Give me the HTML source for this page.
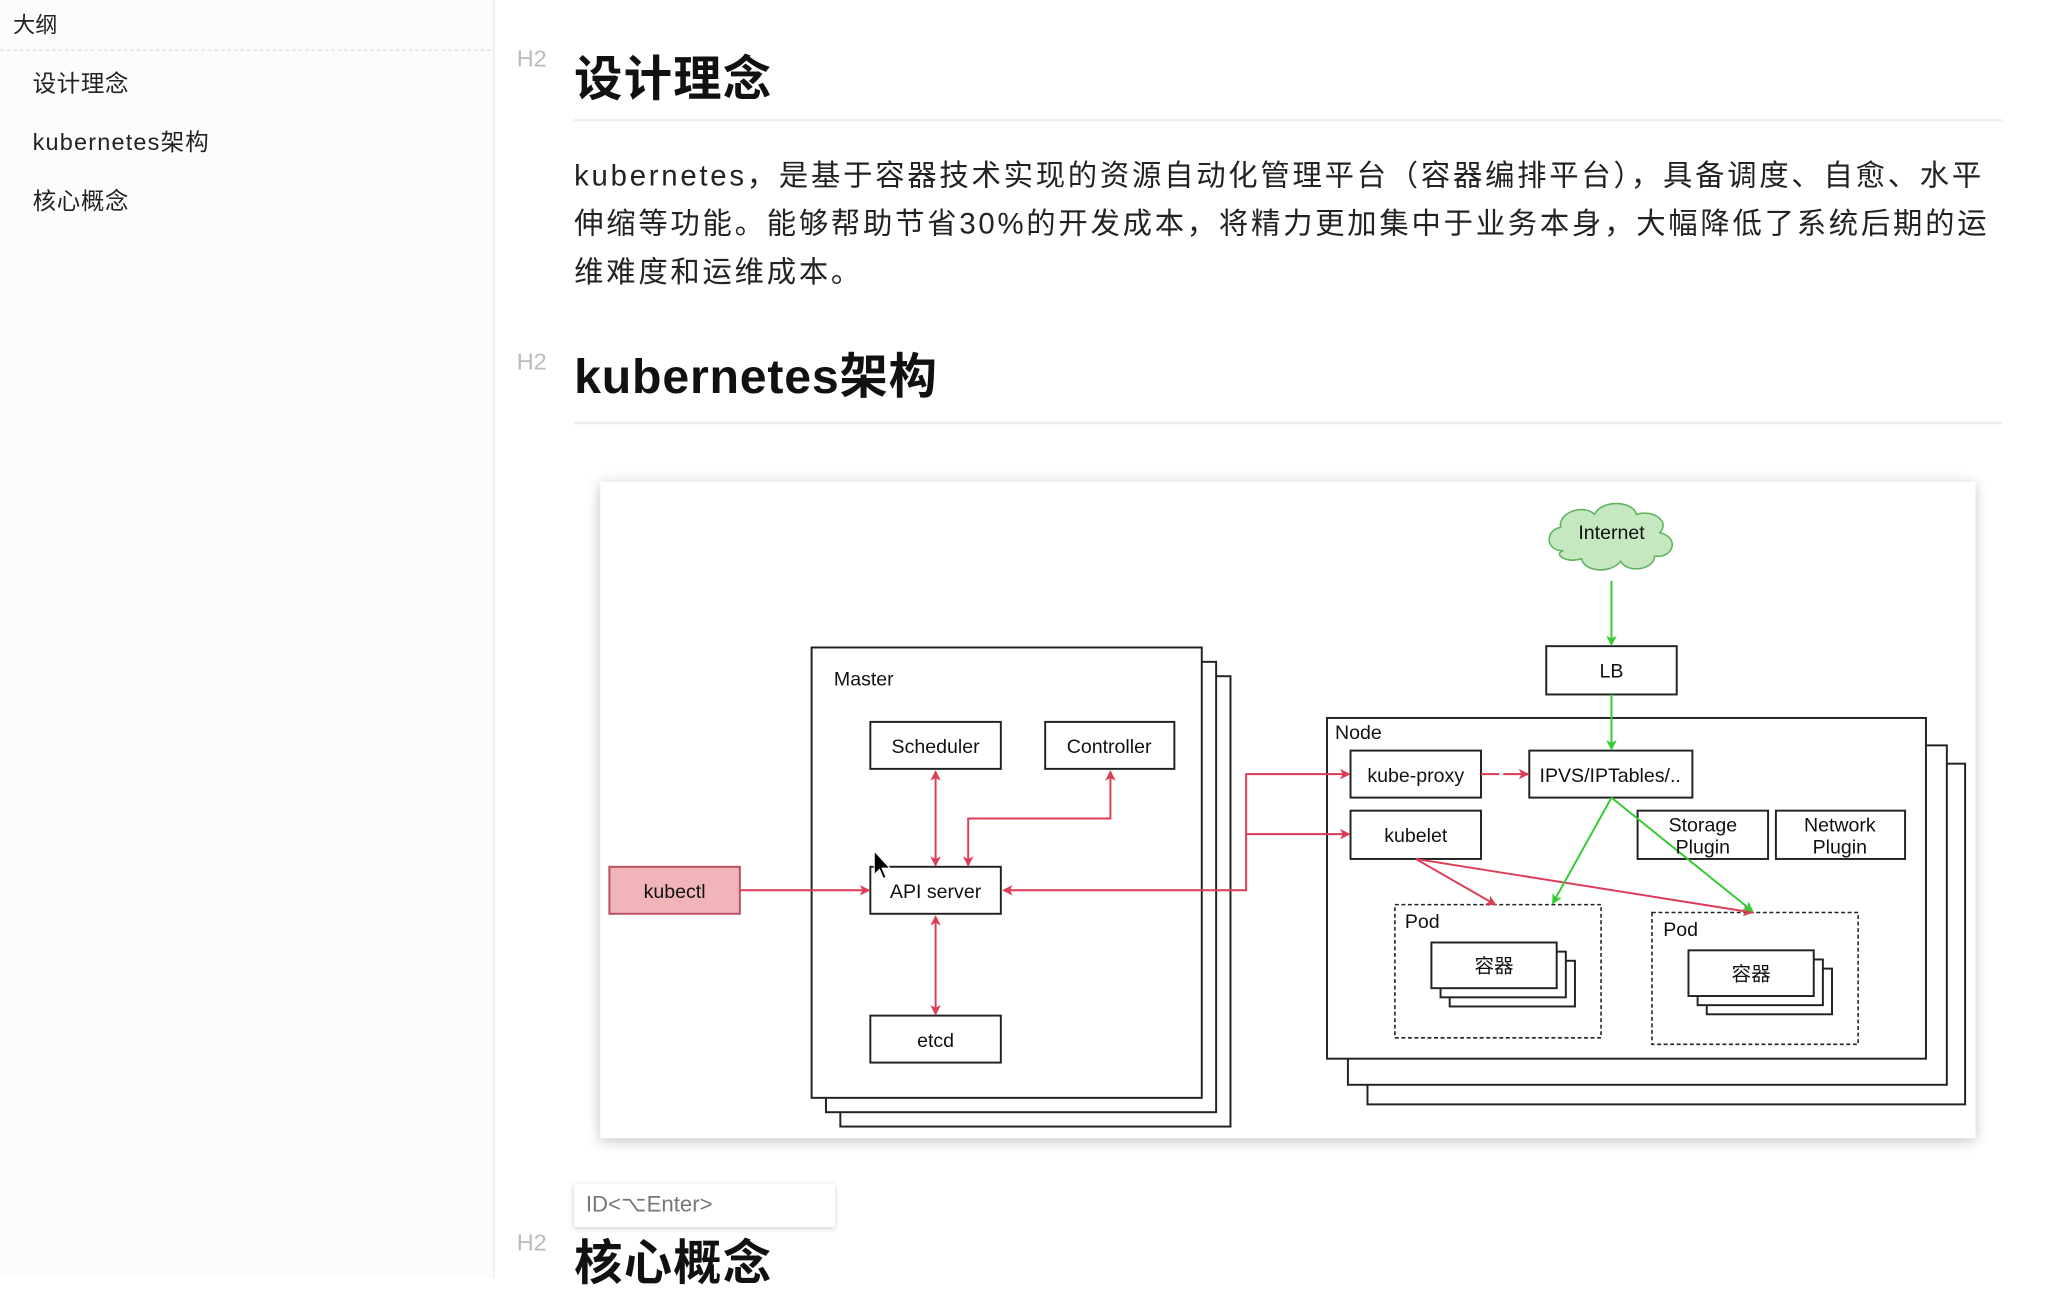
<!DOCTYPE html>
<html><head><meta charset="utf-8"><style>
html,body{margin:0;padding:0;width:2046px;height:1278px;overflow:hidden;background:#fff}
#w{position:absolute;left:0;top:0;width:1568px;height:979px;transform:scale(1.30485,1.3054);transform-origin:0 0;font-family:"Liberation Sans","Noto Sans CJK SC",sans-serif;color:#222}
.a{position:absolute;white-space:nowrap}
</style></head><body><div id="w">
<div class="a" style="left:0;top:0;width:378px;height:979px;background:#fcfcfc;border-right:1px solid #e8e8e8"></div>
<div class="a" style="left:10px;top:5px;font-size:17px">大纲</div>
<div class="a" style="left:0;top:38px;width:376px;border-top:1px dashed #ddd"></div>
<div class="a" style="left:25px;top:50px;font-size:18px;letter-spacing:0.5px">设计理念</div>
<div class="a" style="left:25px;top:95px;font-size:18px;letter-spacing:0.9px">kubernetes架构</div>
<div class="a" style="left:25px;top:140px;font-size:18px;letter-spacing:0.5px">核心概念</div>

<div class="a" style="left:396px;top:35px;font-size:18px;color:#bbb">H2</div>
<div class="a" style="left:440px;top:30px;font-size:37px;font-weight:bold;color:#111;letter-spacing:1px">设计理念</div>
<div class="a" style="left:440px;top:91px;width:1094px;border-top:2px solid #eee"></div>
<div class="a" style="left:440px;top:116px;font-size:22.5px;line-height:37px;color:#222;letter-spacing:2.1px">kubernetes，是基于容器技术实现的资源自动化管理平台（容器编排平台），具备调度、自愈、水平<br>伸缩等功能。能够帮助节省30%的开发成本，将精力更加集中于业务本身，大幅降低了系统后期的运<br>维难度和运维成本。</div>
<div class="a" style="left:396px;top:267px;font-size:18px;color:#bbb">H2</div>
<div class="a" style="left:440px;top:258px;font-size:37px;font-weight:bold;color:#111;letter-spacing:0.6px">kubernetes架构</div>
<div class="a" style="left:440px;top:323px;width:1094px;border-top:2px solid #eee"></div>

<div class="a" style="left:460px;top:369px;width:1054px;height:503px;background:#fff;box-shadow:0 2px 10px rgba(0,0,0,0.25)"></div>
<svg class="a" style="left:0;top:0" width="1568" height="979" viewBox="0 0 1568 979" font-family="Liberation Sans, Noto Sans CJK SC, sans-serif" font-size="15" text-anchor="middle">
<defs>
<marker id="r" markerWidth="8" markerHeight="8" refX="7" refY="4" orient="auto" markerUnits="userSpaceOnUse"><path d="M0,0 L8,4 L0,8 L2,4z" fill="#dc3c55"/></marker>
<marker id="rs" markerWidth="8" markerHeight="8" refX="1" refY="4" orient="auto" markerUnits="userSpaceOnUse"><path d="M8,0 L0,4 L8,8 L6,4z" fill="#dc3c55"/></marker>
<marker id="g" markerWidth="8" markerHeight="8" refX="7" refY="4" orient="auto" markerUnits="userSpaceOnUse"><path d="M0,0 L8,4 L0,8 L2,4z" fill="#33cc33"/></marker>
</defs>
<g fill="#fff" stroke="#222" stroke-width="1.5">
<rect x="644" y="518" width="299" height="345"/><rect x="633" y="507" width="299" height="345"/><rect x="622" y="496" width="299" height="345"/>
<rect x="1048" y="585" width="458" height="261"/><rect x="1033" y="571" width="459" height="260"/><rect x="1017" y="550" width="459" height="261"/>
<rect x="667" y="553" width="100" height="36"/><rect x="801" y="553" width="99" height="36"/>
<rect x="667" y="664" width="100" height="36"/><rect x="667" y="778" width="100" height="36"/>
<rect x="1185" y="495" width="100" height="37"/>
<rect x="1035" y="575" width="100" height="36"/><rect x="1172" y="575" width="125" height="36"/>
<rect x="1035" y="621" width="100" height="37"/><rect x="1255" y="621" width="100" height="37"/><rect x="1361" y="621" width="99" height="37"/>
<rect x="1069" y="693" width="158" height="102" stroke-dasharray="3,2" stroke-width="1.2"/>
<rect x="1266" y="699" width="158" height="101" stroke-dasharray="3,2" stroke-width="1.2"/>
<rect x="1111" y="736" width="96" height="35"/><rect x="1104" y="729" width="96" height="35"/><rect x="1097" y="722" width="96" height="35"/>
<rect x="1308" y="742" width="96" height="35"/><rect x="1301" y="735" width="96" height="35"/><rect x="1294" y="728" width="96" height="35"/>
</g>
<rect x="467" y="664" width="100" height="36" fill="#f0b4ba" stroke="#b85060" stroke-width="1.5"/>
<path d="M1198,422 c-14,0 -14,-16 -2,-18 c-2,-12 18,-18 26,-10 c6,-12 30,-10 32,0 c14,-4 26,6 18,14 c16,4 10,20 -4,18 c0,10 -20,14 -26,4 c-8,10 -28,8 -30,-2 c-12,4 -22,-4 -14,-6z" fill="#c6e8c0" stroke="#5fb35f" stroke-width="1.2"/>
<g stroke="#dc3c55" stroke-width="1.5" fill="none">
<line x1="567" y1="682" x2="666" y2="682" marker-end="url(#r)"/>
<line x1="717" y1="591" x2="717" y2="663" marker-start="url(#rs)" marker-end="url(#r)"/>
<line x1="717" y1="702" x2="717" y2="777" marker-start="url(#rs)" marker-end="url(#r)"/>
<polyline points="851,591 851,627 742,627 742,663" marker-start="url(#rs)" marker-end="url(#r)"/>
<polyline points="769,682 955,682 955,593 1034,593" marker-start="url(#rs)" marker-end="url(#r)"/>
<line x1="955" y1="639" x2="1034" y2="639" marker-end="url(#r)"/>
<line x1="1135" y1="593" x2="1171" y2="593" marker-end="url(#r)" stroke-dasharray="14,3"/>
<line x1="1085" y1="658" x2="1146" y2="693" marker-end="url(#r)"/>
<line x1="1085" y1="658" x2="1343" y2="699" marker-end="url(#r)"/>
</g>
<g stroke="#33cc33" stroke-width="1.5" fill="none">
<line x1="1235" y1="445" x2="1235" y2="494" marker-end="url(#g)"/>
<line x1="1235" y1="532" x2="1235" y2="574" marker-end="url(#g)"/>
<line x1="1235" y1="611" x2="1190" y2="692" marker-end="url(#g)"/>
<line x1="1235" y1="611" x2="1343" y2="698" marker-end="url(#g)"/>
</g>
<g fill="#111">
<text x="1235" y="413">Internet</text>
<text x="1235" y="519">LB</text>
<text x="662" y="525">Master</text>
<text x="1041" y="566">Node</text>
<text x="717" y="577">Scheduler</text><text x="850" y="577">Controller</text>
<text x="717" y="688">API server</text><text x="717" y="802">etcd</text>
<text x="517" y="688">kubectl</text>
<text x="1085" y="599">kube-proxy</text><text x="1234" y="599">IPVS/IPTables/..</text>
<text x="1085" y="645">kubelet</text>
<text x="1305" y="637">Storage</text><text x="1305" y="654">Plugin</text>
<text x="1410" y="637">Network</text><text x="1410" y="654">Plugin</text>
<text x="1090" y="711">Pod</text><text x="1288" y="717">Pod</text>
<text x="1145" y="745">容器</text><text x="1342" y="751">容器</text>
</g>
<path d="M670,652 l0,18 l4,-4 l3,7 l2,-1 l-3,-7 l6,0z" fill="#000" stroke="#fff" stroke-width="0.8"/>
</svg>

<div class="a" style="left:440px;top:907px;width:200px;height:33px;background:#fff;box-shadow:0 1px 4px rgba(0,0,0,0.2)"></div>
<div class="a" style="left:449px;top:913px;font-size:17px;color:#777">ID&lt;⌥Enter&gt;</div>
<div class="a" style="left:396px;top:942px;font-size:18px;color:#bbb">H2</div>
<div class="a" style="left:440px;top:937px;font-size:37px;font-weight:bold;color:#111;letter-spacing:1px">核心概念</div>
</div></body></html>
